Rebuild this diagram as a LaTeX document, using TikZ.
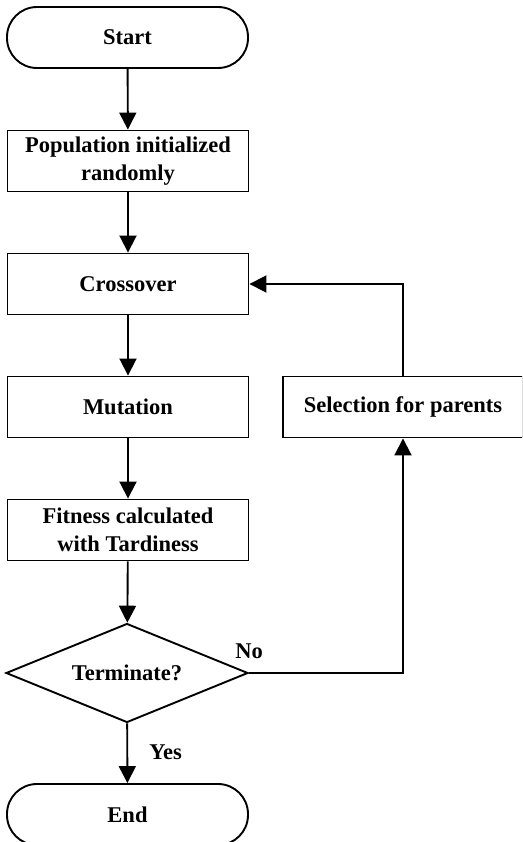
\documentclass[tikz,border=0pt]{standalone}
\usepackage{fontspec}
\setmainfont{Liberation Serif}
\usetikzlibrary{arrows.meta,shapes.geometric}
\begin{document}
\begin{tikzpicture}[x=1pt,y=-1pt,
  base/.style={draw, line width=1.9pt, font=\bfseries\fontsize{22.5}{28}\selectfont, align=center, inner sep=0pt},
  procbox/.style={base, rectangle, minimum width=241pt, minimum height=61pt},
  termbox/.style={base, rectangle, rounded corners=30pt, minimum width=241pt, minimum height=61pt},
  decision/.style={base, diamond, aspect=2.44, minimum width=242pt, minimum height=99pt},
  arr/.style={line width=1.9pt, -{Triangle[length=17pt,width=17pt]}},
  lbl/.style={font=\bfseries\fontsize{22.5}{28}\selectfont, inner sep=0pt}]
\clip (0,0) rectangle (522,842);
\node[termbox] (s) at (127.5,37.5) {Start};
\node[procbox] (pop) at (128,161) {Population initialized\\randomly};
\node[procbox] (cross) at (128,284) {Crossover};
\node[procbox] (mut) at (128,407) {Mutation};
\node[procbox] (fit) at (128,530) {Fitness calculated\\with Tardiness};
\node[decision] (dec) at (127,673) {Terminate?};
\node[termbox] (e) at (127.5,814.5) {End};
\node[procbox, minimum width=240pt] (sel) at (403,407) {Selection for parents};
\draw[arr] (s) -- (pop);
\draw[arr] (pop) -- (cross);
\draw[arr] (cross) -- (mut);
\draw[arr] (mut) -- (fit);
\draw[arr] (fit) -- (dec);
\draw[arr] (dec) -- (e);
\draw[arr] (dec.east) -- (dec.east -| sel) -- (sel.south);
\draw[arr] (sel.north) |- (cross.east);
\node[lbl] (no) at (249,651) {No};
\node[lbl] (yes) at (165.5,752) {Yes};
\end{tikzpicture}
\end{document}
